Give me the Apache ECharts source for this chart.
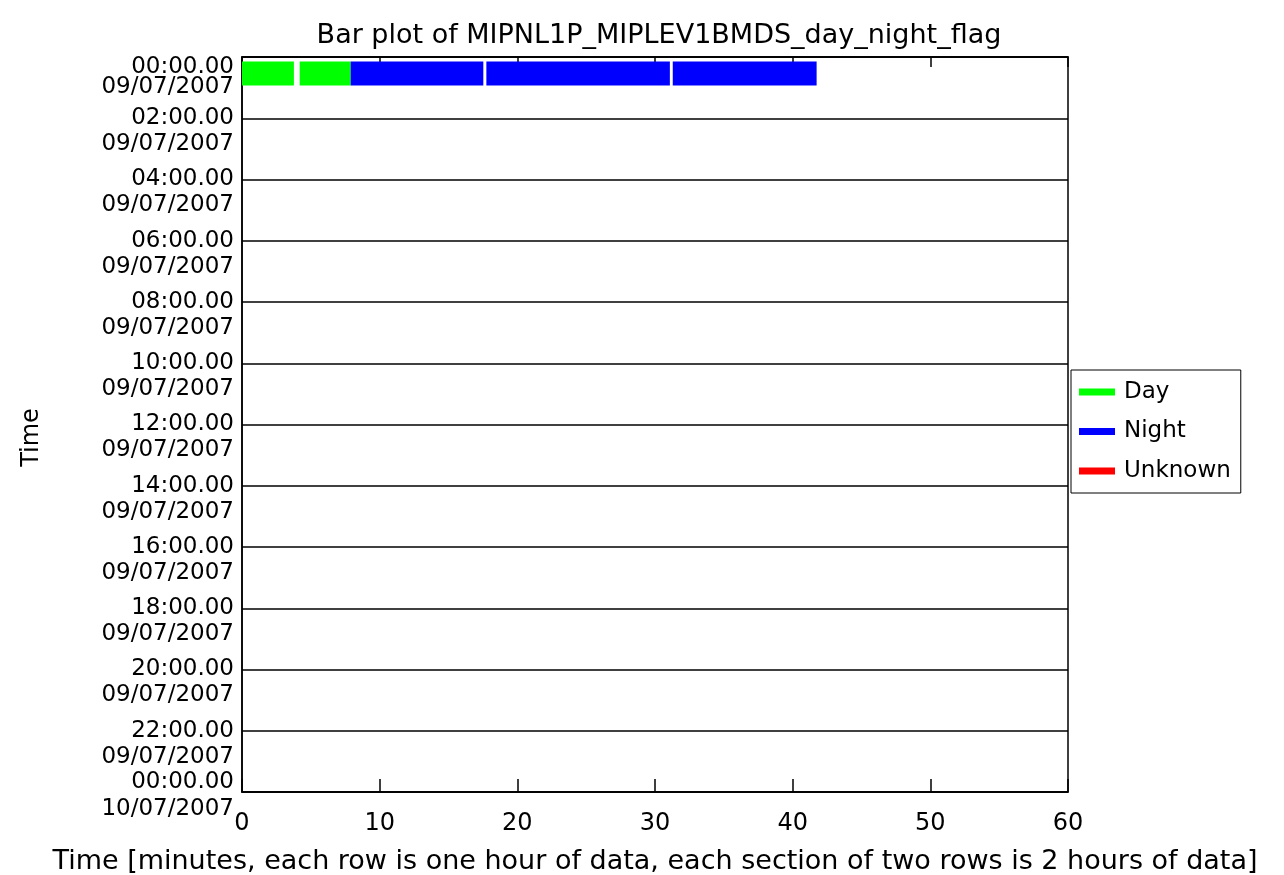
<!DOCTYPE html>
<html>
<head>
<meta charset="utf-8">
<script src="https://cdn.jsdelivr.net/npm/echarts@6/dist/echarts.min.js"></script>
<style>html,body{margin:0;padding:0;background:#fff;}#c{width:1284px;height:875px;}</style>
</head>
<body>
<div id="c"></div>
<script>
// ---- data ----
const titleText = 'Bar plot of MIPNL1P_MIPLEV1BMDS_day_night_flag';
const xAxisName = 'Time [minutes, each row is one hour of data, each section of two rows is 2 hours of data]';
const yAxisName = 'Time';
const flagNames = ['Day', 'Night', 'Unknown'];
const flagColors = ['#00ff00', '#0000ff', '#ff0000'];
// segments (row = hour index from 00:00 09/07/2007)
const segRow   = [0, 0, 0, 0, 0];
const segStart = [0, 4.19, 7.89, 17.75, 31.29];
const segEnd   = [3.77, 7.89, 17.53, 31.08, 41.74];
const segFlag  = ['Day', 'Day', 'Night', 'Night', 'Night'];
// y tick labels (every 2 hours)
const tickTimes = ['00:00.00','02:00.00','04:00.00','06:00.00','08:00.00','10:00.00','12:00.00','14:00.00','16:00.00','18:00.00','20:00.00','22:00.00','00:00.00'];
const tickDates = ['09/07/2007','09/07/2007','09/07/2007','09/07/2007','09/07/2007','09/07/2007','09/07/2007','09/07/2007','09/07/2007','09/07/2007','09/07/2007','09/07/2007','10/07/2007'];

const FONT = 'DejaVu Sans';
const chart = echarts.init(document.getElementById('c'), null, {renderer: 'canvas'});

function renderSeg(params, api) {
  const s = api.value(0), e = api.value(1), r = api.value(2);
  const p0 = api.coord([s, r + 0.15]);
  const p1 = api.coord([e, r + 0.93]);
  return {
    type: 'rect',
    shape: {x: p0[0], y: p0[1], width: p1[0] - p0[0], height: p1[1] - p0[1]},
    style: {fill: api.visual('color')}
  };
}

const series = flagNames.map((name, k) => {
  const data = [];
  for (let i = 0; i < segFlag.length; i++) {
    if (segFlag[i] === name) data.push([segStart[i], segEnd[i], segRow[i]]);
  }
  return {
    name: name,
    type: 'custom',
    renderItem: renderSeg,
    itemStyle: {color: flagColors[k]},
    encode: {x: [0, 1], y: 2},
    data: data,
    silent: true
  };
});

const LS = 23;
const lastIdx = tickTimes.length - 1;
const yBase = {
  type: 'value', min: 0, max: 24, interval: 2, inverse: true, position: 'left'
};
const option = {
  animation: false,
  backgroundColor: '#ffffff',
  textStyle: {fontFamily: FONT, color: '#000'},
  title: {
    text: titleText,
    left: 654, top: 17, textAlign: 'center',
    textStyle: {fontFamily: FONT, fontSize: 27, fontWeight: 'normal', color: '#000'}
  },
  legend: {
    orient: 'vertical',
    left: 1071, top: 370,
    data: flagNames,
    icon: 'rect',
    itemWidth: 36, itemHeight: 7,
    itemGap: 15.5,
    padding: [10, 10, 10, 8],
    borderColor: '#000', borderWidth: 1,
    textStyle: {fontFamily: FONT, fontSize: 23, lineHeight: 24, color: '#000', padding: [0, 0, 0, 4]},
    selectedMode: false
  },
  grid: {
    left: 242, right: 216, top: 57, bottom: 83,
    containLabel: false,
    outerBoundsMode: 'none',
    show: true, borderColor: '#000', borderWidth: 1.5, backgroundColor: 'transparent'
  },
  xAxis: [{
    type: 'value', min: 0, max: 60, interval: 10, position: 'bottom',
    name: xAxisName, nameLocation: 'middle', nameGap: 56,
    nameTextStyle: {fontFamily: FONT, fontSize: 27, color: '#000'},
    axisLine: {show: true, onZero: false, lineStyle: {color: '#000', width: 1.5}},
    axisTick: {show: true, inside: true, length: 13, lineStyle: {color: '#000', width: 1.5}},
    axisLabel: {fontFamily: FONT, fontSize: 24, color: '#000', margin: 20, showMinLabel: true, showMaxLabel: true},
    splitLine: {show: false}
  }, {
    type: 'value', min: 0, max: 60, interval: 10, position: 'top',
    axisLine: {show: true, onZero: false, lineStyle: {color: '#000', width: 1.5}},
    axisTick: {show: true, inside: true, length: 10, lineStyle: {color: '#000', width: 1.5}},
    axisLabel: {show: false},
    splitLine: {show: false}
  }],
  yAxis: [Object.assign({}, yBase, {
    name: yAxisName, nameLocation: 'middle', nameGap: 198, nameRotate: 90,
    nameTextStyle: {fontFamily: FONT, fontSize: 24, color: '#000', padding: [0, 26, 0, 0]},
    axisLine: {show: true, onZero: false, lineStyle: {color: '#000', width: 1.5}},
    axisTick: {show: false},
    splitLine: {show: true, lineStyle: {color: '#000', width: 1.5}},
    axisLabel: {
      margin: 8, showMinLabel: true, showMaxLabel: true, hideOverlap: false,
      fontFamily: FONT, fontSize: LS, color: '#000', align: 'right', verticalAlign: 'middle',
      formatter: function (v) {
        const i = Math.round(v / 2);
        if (i === 0) return '{t0|' + tickTimes[i] + '}';
        if (i === lastIdx) return '{t1|' + tickTimes[i] + '}';
        return '{t|' + tickTimes[i] + '}';
      },
      rich: {
        t:  {lineHeight: 26, fontSize: LS, fontFamily: FONT, color: '#000'},
        t0: {lineHeight: 20, fontSize: LS, fontFamily: FONT, color: '#000', padding: [20, 0, 0, 0]},
        t1: {lineHeight: 20, fontSize: LS, fontFamily: FONT, color: '#000', padding: [0, 0, 20, 0]}
      }
    }
  }), Object.assign({}, yBase, {
    axisLine: {show: false, onZero: false},
    axisTick: {show: false},
    splitLine: {show: false},
    axisLabel: {
      margin: 8, showMinLabel: true, showMaxLabel: true, hideOverlap: false,
      fontFamily: FONT, fontSize: LS, color: '#000', align: 'right', verticalAlign: 'top',
      formatter: function (v) {
        const i = Math.round(v / 2);
        if (i === 0) return '{d0|' + tickDates[i] + '}';
        if (i === lastIdx) return '{d1|' + tickDates[i] + '}';
        return '{d|' + tickDates[i] + '}';
      },
      rich: {
        d:  {lineHeight: 52, fontSize: LS, fontFamily: FONT, color: '#000'},
        d0: {lineHeight: 60, fontSize: LS, fontFamily: FONT, color: '#000'},
        d1: {lineHeight: 34, fontSize: LS, fontFamily: FONT, color: '#000'}
      }
    }
  })],
  series: series
};
chart.setOption(option);
</script>
</body>
</html>
